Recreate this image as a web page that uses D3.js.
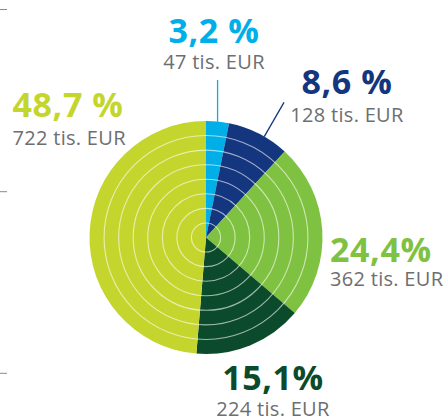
<!DOCTYPE html>
<html><head><meta charset="utf-8">
<script src="https://cdn.jsdelivr.net/npm/d3@7"></script>
<style>
html,body{margin:0;padding:0;background:#fff;}
svg{display:block;}
</style></head>
<body>
<svg id="chart" width="445" height="419"></svg>
<script>
// ---- data ----
const categories = ["A", "B", "C", "D", "E"];
const values = [47, 128, 362, 224, 722];           // tis. EUR
const percentLabels = ["3,2 %", "8,6 %", "24,4%", "15,1%", "48,7 %"];
const valueLabels = ["47 tis. EUR", "128 tis. EUR", "362 tis. EUR", "224 tis. EUR", "722 tis. EUR"];
const colors = ["#00aee8", "#13367f", "#7fc241", "#0b4b2b", "#c4d62e"];
const ringCount = 8;

// ---- layout ----
const cx = 206, cy = 237.5, R = 116.5;
const svg = d3.select("#chart");

// left axis stubs
[9.5, 191.7, 373.3].forEach(y => {
  svg.append("line").attr("x1", 0).attr("x2", 7).attr("y1", y).attr("y2", y)
    .attr("stroke", "#8a8a8a").attr("stroke-width", 1);
});

const pie = d3.pie().sort(null).value(d => d)(values);
const arc = d3.arc().innerRadius(0).outerRadius(R);
const g = svg.append("g").attr("transform", `translate(${cx},${cy})`);

g.selectAll("path.slice").data(pie).join("path")
  .attr("class", "slice")
  .attr("d", arc)
  .attr("fill", (d, i) => colors[i]);

// concentric rings
const rScale = d3.scaleLinear().domain([0, ringCount]).range([0, R]);
g.selectAll("circle.ring").data(d3.range(1, ringCount)).join("circle")
  .attr("class", "ring")
  .attr("r", d => rScale(d))
  .attr("fill", "none")
  .attr("stroke", "#ffffff")
  .attr("stroke-opacity", 0.6)
  .attr("stroke-width", 1.1);

// leader lines
const mid = d => (d.startAngle + d.endAngle) / 2;
{
  const a = mid(pie[0]);
  const x = R * Math.sin(a), y = -R * Math.cos(a);
  g.append("line").attr("x1", x).attr("y1", y).attr("x2", x).attr("y2", 80 - cy)
    .attr("stroke", colors[0]).attr("stroke-width", 1.3);
}
{
  const a = 30 * Math.PI / 180;
  g.append("line")
    .attr("x1", R * Math.sin(a)).attr("y1", -R * Math.cos(a))
    .attr("x2", 156 * Math.sin(a)).attr("y2", -156 * Math.cos(a))
    .attr("stroke", colors[1]).attr("stroke-width", 1.3);
}

// labels
const labelPos = [
  {x: 214, y1: 43.3, y2: 69.3, anchor: "middle"},
  {x: 347, y1: 94.3, y2: 121.5, anchor: "middle"},
  {x: 330, y1: 261.7, y2: 286, anchor: "start"},
  {x: 273, y1: 390, y2: 415.5, anchor: "middle"},
  {x: 12.5, y1: 117.3, y2: 145, anchor: "start"}
];
const font = "'Open Sans', 'Noto Sans', sans-serif";
labelPos.forEach((p, i) => {
  svg.append("text").attr("x", p.x).attr("y", p.y1).attr("text-anchor", p.anchor)
    .attr("font-family", font).attr("font-weight", 700).attr("font-size", 34)
    .attr("letter-spacing", 0.6)
    .attr("fill", colors[i]).text(percentLabels[i]);
  svg.append("text").attr("x", p.x).attr("y", p.y2).attr("text-anchor", p.anchor)
    .attr("font-family", font).attr("font-weight", 400).attr("font-size", 20)
    .attr("letter-spacing", 0.3)
    .attr("fill", "#6d6e71").text(valueLabels[i]);
});
</script>
</body></html>
